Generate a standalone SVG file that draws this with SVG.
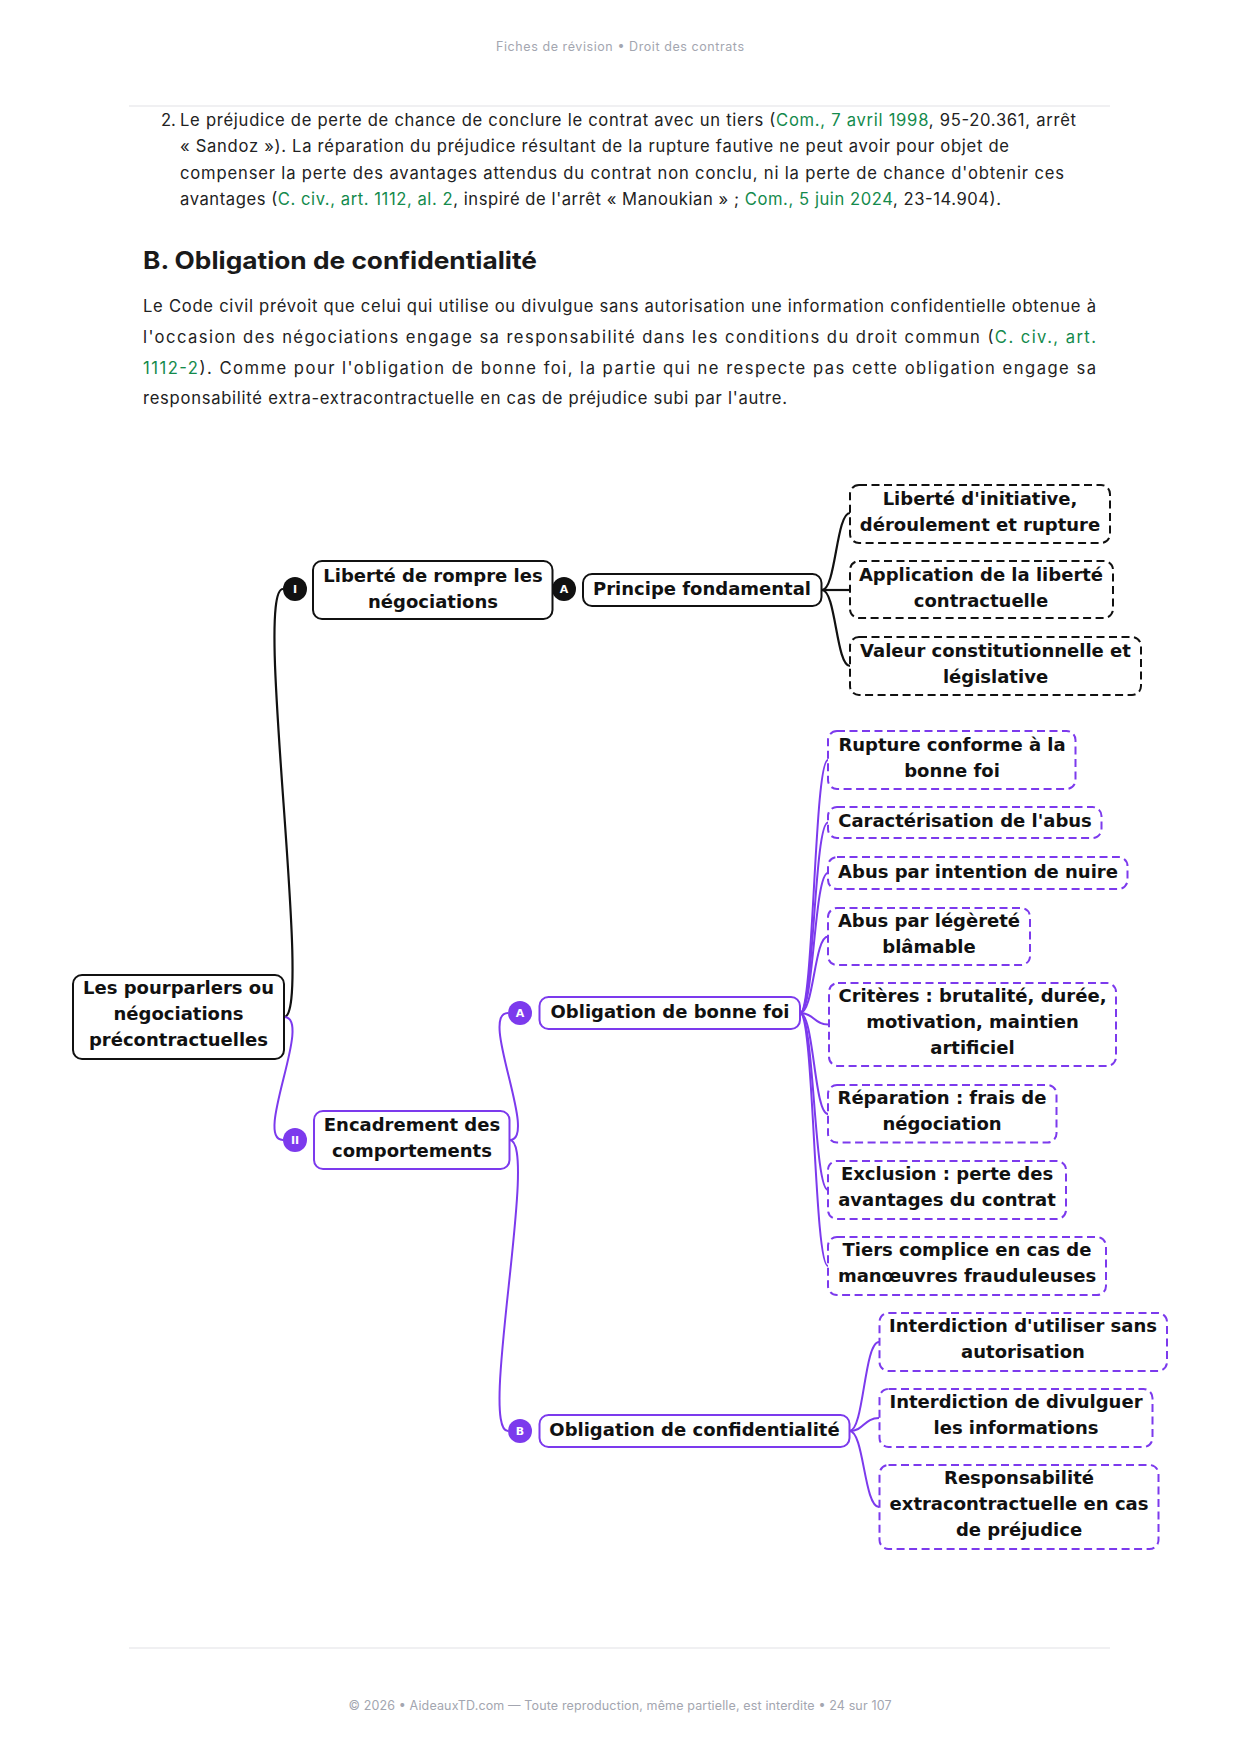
<svg xmlns="http://www.w3.org/2000/svg" width="1241" height="1754" viewBox="0 0 1241 1754">
<style>
.meta{font-family:Inter,"Liberation Sans",sans-serif;font-size:12.5px;fill:#a3a6b0}
.body{font-family:Inter,"Liberation Sans",sans-serif;font-size:16.6px;fill:#222}
.lnk{fill:#148a4c}
.h2{font-family:Inter,"Liberation Sans",sans-serif;font-size:24px;font-weight:700;fill:#1a1a1a}
.nt{font-family:"DejaVu Sans",sans-serif;font-weight:700;font-size:18px;fill:#111;text-anchor:middle}
.ct{font-family:"DejaVu Sans",sans-serif;font-weight:700;font-size:11px;fill:#fff;text-anchor:middle}
.bk{fill:#fff;stroke:#111;stroke-width:2}
.bkd{fill:#fff;stroke:#111;stroke-width:2;stroke-dasharray:8 4.5}
.pu{fill:#fff;stroke:#7c3aed;stroke-width:2}
.pud{fill:#fff;stroke:#7c3aed;stroke-width:2;stroke-dasharray:8 4.5}
.cb{fill:#111}
.cp{fill:#7c3aed}
.lk{fill:none;stroke:#111;stroke-width:2.2}
.lp{fill:none;stroke:#7c3aed;stroke-width:2}
.rule{stroke:#f0f0f2;stroke-width:2}
</style>
<rect width="1241" height="1754" fill="#fff"/>
<g id="header">
<text class="meta" x="620" y="51" text-anchor="middle" textLength="248">Fiches de révision • Droit des contrats</text>
<line class="rule" x1="129" y1="106" x2="1110" y2="106"/>
</g>
<g id="para1">
<text class="body" x="161" y="126">2.</text>
<text class="body" x="180" y="126" textLength="896">Le préjudice de perte de chance de conclure le contrat avec un tiers (<tspan class="lnk">Com., 7 avril 1998</tspan>, 95-20.361, arrêt</text>
<text class="body" x="180" y="152" textLength="829">« Sandoz »). La réparation du préjudice résultant de la rupture fautive ne peut avoir pour objet de</text>
<text class="body" x="180" y="178.5" textLength="884">compenser la perte des avantages attendus du contrat non conclu, ni la perte de chance d'obtenir ces</text>
<text class="body" x="180" y="205" textLength="821">avantages (<tspan class="lnk">C. civ., art. 1112, al. 2</tspan>, inspiré de l'arrêt « Manoukian » ; <tspan class="lnk">Com., 5 juin 2024</tspan>, 23-14.904).</text>
</g>
<g id="heading">
<text class="h2" x="143" y="269" textLength="394" lengthAdjust="spacingAndGlyphs">B. Obligation de confidentialité</text>
</g>
<g id="para2">
<text class="body" x="143" y="312" textLength="953">Le Code civil prévoit que celui qui utilise ou divulgue sans autorisation une information confidentielle obtenue à</text>
<text class="body" x="143" y="343" textLength="953">l'occasion des négociations engage sa responsabilité dans les conditions du droit commun (<tspan class="lnk">C. civ., art.</tspan></text>
<text class="body" x="143" y="374" textLength="953"><tspan class="lnk">1112-2</tspan>). Comme pour l'obligation de bonne foi, la partie qui ne respecte pas cette obligation engage sa</text>
<text class="body" x="143" y="404" textLength="644">responsabilité extra-extracontractuelle en cas de préjudice subi par l'autre.</text>
</g>
<g id="connectors">
<path class="lk" d="M284,1017 C314,1017 253,589 283,589"/>
<path class="lp" d="M284,1017 C314,1017 253,1140 283,1140"/>
<path class="lk" d="M541,589 L556,589"/>
<path class="lk" d="M822,590 C836,590 836,513 850,513"/>
<path class="lk" d="M822,590 L850,590"/>
<path class="lk" d="M822,590 C836,590 836,666 850,666"/>
<path class="lp" d="M509.5,1140 C539.5,1140 478,1013 508,1013"/>
<path class="lp" d="M509.5,1140 C539.5,1140 478,1431 508,1431"/>
<path class="lp" d="M800,1013 C814,1013 814,760 828,760"/>
<path class="lp" d="M800,1013 C814,1013 814,822.5 828,822.5"/>
<path class="lp" d="M800,1013 C814,1013 814,873 828,873"/>
<path class="lp" d="M800,1013 C814,1013 814,936.5 828,936.5"/>
<path class="lp" d="M800,1013 C814,1013 814,1024.5 828,1024.5"/>
<path class="lp" d="M800,1013 C814,1013 814,1114 828,1114"/>
<path class="lp" d="M800,1013 C814,1013 814,1190 828,1190"/>
<path class="lp" d="M800,1013 C814,1013 814,1266 828,1266"/>
<path class="lp" d="M849.6,1431 C864,1431 864,1342 879,1342"/>
<path class="lp" d="M849.6,1431 C864,1431 864,1418 879,1418"/>
<path class="lp" d="M849.6,1431 C864,1431 864,1507 879,1507"/>
</g>
<g id="root">
<rect class="bk" x="73" y="975" width="211" height="84" rx="9"/>
<text class="nt" x="178.5" y="994">Les pourparlers ou</text>
<text class="nt" x="178.5" y="1020">négociations</text>
<text class="nt" x="178.5" y="1046">précontractuelles</text>
</g>
<g id="n-I">
<circle class="cb" cx="295" cy="589" r="12"/>
<text class="ct" x="295" y="593">I</text>
</g>
<g id="n-liberte">
<rect class="bk" x="313" y="561" width="239.5" height="58" rx="9"/>
<text class="nt" x="433" y="582">Liberté de rompre les</text>
<text class="nt" x="433" y="608">négociations</text>
</g>
<g id="n-IA">
<circle class="cb" cx="564" cy="589" r="12"/>
<text class="ct" x="564" y="593">A</text>
</g>
<g id="n-principe">
<rect class="bk" x="583" y="574" width="238.5" height="32" rx="9"/>
<text class="nt" x="702" y="595">Principe fondamental</text>
</g>
<g id="n-initiative">
<rect class="bkd" x="850" y="485" width="260" height="58" rx="9"/>
<text class="nt" x="980" y="505">Liberté d'initiative,</text>
<text class="nt" x="980" y="531">déroulement et rupture</text>
</g>
<g id="n-application">
<rect class="bkd" x="850" y="561" width="263" height="57" rx="9"/>
<text class="nt" x="981" y="581">Application de la liberté</text>
<text class="nt" x="981" y="607">contractuelle</text>
</g>
<g id="n-valeur">
<rect class="bkd" x="850" y="637" width="291" height="58" rx="9"/>
<text class="nt" x="995.5" y="656.5">Valeur constitutionnelle et</text>
<text class="nt" x="995.5" y="682.5">législative</text>
</g>
<g id="n-II">
<circle class="cp" cx="295" cy="1140" r="12"/>
<text class="ct" x="295" y="1144">II</text>
</g>
<g id="n-encadrement">
<rect class="pu" x="314" y="1111" width="195.5" height="58" rx="9"/>
<text class="nt" x="412" y="1131">Encadrement des</text>
<text class="nt" x="412" y="1157">comportements</text>
</g>
<g id="n-IIA">
<circle class="cp" cx="520" cy="1013" r="12"/>
<text class="ct" x="520" y="1017">A</text>
</g>
<g id="n-bonnefoi">
<rect class="pu" x="539.5" y="997" width="260.5" height="32" rx="9"/>
<text class="nt" x="670" y="1018">Obligation de bonne foi</text>
</g>
<g id="n-rupture">
<rect class="pud" x="828" y="731" width="247.5" height="58" rx="9"/>
<text class="nt" x="952" y="750.5">Rupture conforme à la</text>
<text class="nt" x="952" y="776.5">bonne foi</text>
</g>
<g id="n-caracterisation">
<rect class="pud" x="828" y="807" width="273.5" height="31" rx="9"/>
<text class="nt" x="965" y="827">Caractérisation de l'abus</text>
</g>
<g id="n-intention">
<rect class="pud" x="828" y="857" width="299.5" height="32" rx="9"/>
<text class="nt" x="978" y="877.5">Abus par intention de nuire</text>
</g>
<g id="n-legerete">
<rect class="pud" x="828" y="908" width="202" height="57" rx="9"/>
<text class="nt" x="929" y="926.5">Abus par légèreté</text>
<text class="nt" x="929" y="952.5">blâmable</text>
</g>
<g id="n-criteres">
<rect class="pud" x="829" y="983" width="287" height="83" rx="9"/>
<text class="nt" x="972.5" y="1002">Critères : brutalité, durée,</text>
<text class="nt" x="972.5" y="1028">motivation, maintien</text>
<text class="nt" x="972.5" y="1054">artificiel</text>
</g>
<g id="n-reparation">
<rect class="pud" x="828" y="1085" width="228.5" height="57.5" rx="9"/>
<text class="nt" x="942" y="1104">Réparation : frais de</text>
<text class="nt" x="942" y="1130">négociation</text>
</g>
<g id="n-exclusion">
<rect class="pud" x="828" y="1161" width="238" height="58" rx="9"/>
<text class="nt" x="947" y="1180">Exclusion : perte des</text>
<text class="nt" x="947" y="1206">avantages du contrat</text>
</g>
<g id="n-tiers">
<rect class="pud" x="828" y="1237" width="278" height="58" rx="9"/>
<text class="nt" x="967" y="1256">Tiers complice en cas de</text>
<text class="nt" x="967" y="1282">manœuvres frauduleuses</text>
</g>
<g id="n-IIB">
<circle class="cp" cx="520" cy="1431" r="12"/>
<text class="ct" x="520" y="1435">B</text>
</g>
<g id="n-confidentialite">
<rect class="pu" x="539.5" y="1415" width="310" height="32" rx="9"/>
<text class="nt" x="694.5" y="1436">Obligation de confidentialité</text>
</g>
<g id="n-utiliser">
<rect class="pud" x="879.5" y="1313" width="287.5" height="58" rx="9"/>
<text class="nt" x="1023" y="1332">Interdiction d'utiliser sans</text>
<text class="nt" x="1023" y="1358">autorisation</text>
</g>
<g id="n-divulguer">
<rect class="pud" x="879.5" y="1389" width="273" height="58" rx="9"/>
<text class="nt" x="1016" y="1408">Interdiction de divulguer</text>
<text class="nt" x="1016" y="1434">les informations</text>
</g>
<g id="n-responsabilite">
<rect class="pud" x="879.5" y="1465" width="279" height="84" rx="9"/>
<text class="nt" x="1019" y="1484">Responsabilité</text>
<text class="nt" x="1019" y="1510">extracontractuelle en cas</text>
<text class="nt" x="1019" y="1536">de préjudice</text>
</g>
<g id="footer">
<line class="rule" x1="129" y1="1648" x2="1110" y2="1648"/>
<text class="meta" x="620" y="1710" text-anchor="middle" textLength="543">© 2026 • AideauxTD.com — Toute reproduction, même partielle, est interdite • 24 sur 107</text>
</g>
</svg>
